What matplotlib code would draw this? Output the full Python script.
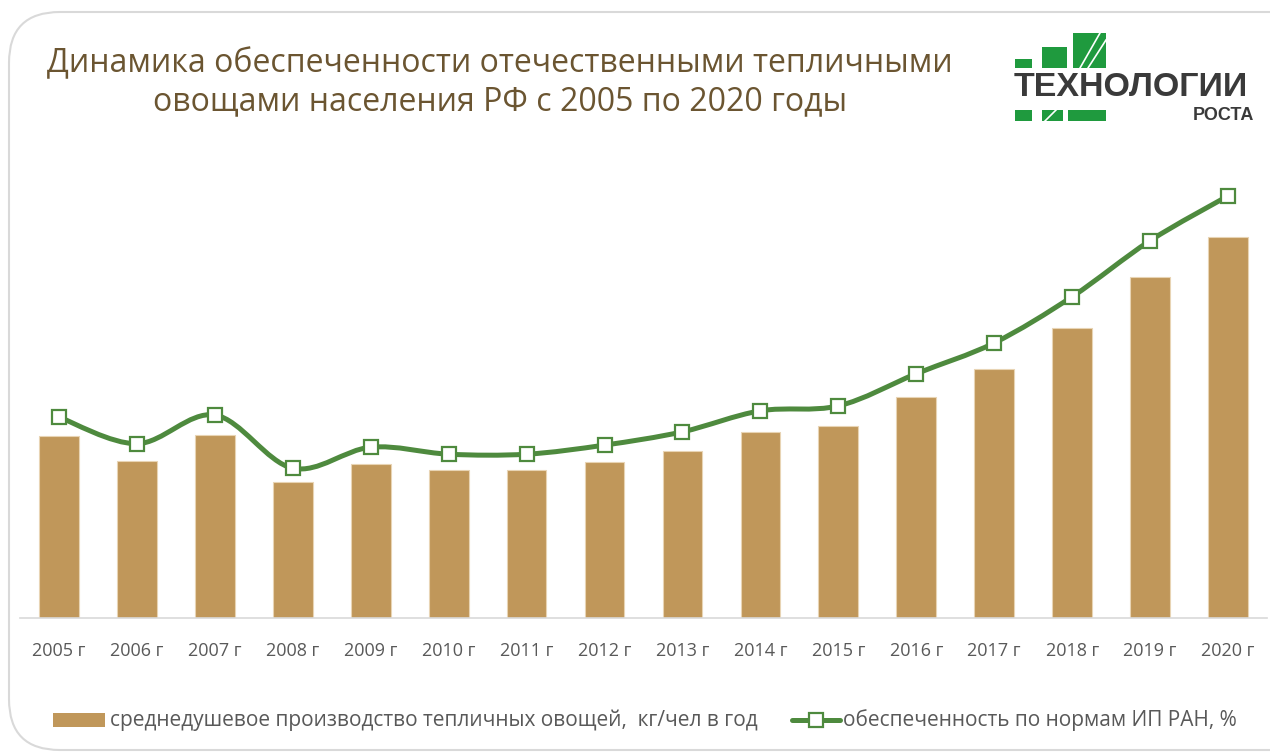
import matplotlib
matplotlib.use("Agg")
import matplotlib.pyplot as plt
from matplotlib.path import Path
from matplotlib.patches import PathPatch, FancyBboxPatch, Rectangle
from matplotlib.lines import Line2D
import numpy as np

years = ["2005 г", "2006 г", "2007 г", "2008 г", "2009 г", "2010 г", "2011 г", "2012 г",
         "2013 г", "2014 г", "2015 г", "2016 г", "2017 г", "2018 г", "2019 г", "2020 г"]
production_kg = [4.23, 3.65, 4.26, 3.16, 3.58, 3.44, 3.44, 3.63,
                 3.88, 4.33, 4.47, 5.14, 5.79, 6.74, 7.93, 8.86]
provision_pct = [28.7, 24.9, 29.0, 21.4, 24.4, 23.4, 23.4, 24.7,
                 26.6, 29.6, 30.3, 34.9, 39.3, 45.9, 53.9, 60.3]

title = "Динамика обеспеченности отечественными тепличными\nовощами населения РФ с 2005 по 2020 годы"
bar_label = "среднедушевое производство тепличных овощей,  кг/чел в год"
line_label = "обеспеченность по нормам ИП РАН, %"

BAR_C = "#C0975A"
LINE_C = "#4E8A3E"
TITLE_C = "#6B5531"
TICK_C = "#595959"
FONT = "Open Sans"

W, H = 1270, 753
fig = plt.figure(figsize=(W / 100, H / 100), dpi=100)
fig.patch.set_facecolor("white")

def fx(px):
    return px / W

def fy(py):
    return 1 - py / H

# rounded frame
frame = FancyBboxPatch((fx(9), fy(750)), fx(1400) - fx(9), fy(12) - fy(750),
                       boxstyle="round,pad=0,rounding_size=0.04",
                       transform=fig.transFigure, facecolor="none",
                       edgecolor="#D9D9D9", linewidth=1.5, mutation_aspect=W / H, zorder=-5)
fig.patches.append(frame)

top_px, base_px = 170, 618
left_px, right_px = 20, 1267
ax = fig.add_axes([fx(left_px), fy(base_px), fx(right_px) - fx(left_px), (base_px - top_px) / H])
ax.set_facecolor("none")
x = np.arange(len(years))
ax.bar(x, production_kg, width=0.51, color=BAR_C, edgecolor="#E8D4B4", linewidth=0.8, zorder=2)
ax.set_xlim(-0.5, len(years) - 0.5)
ax.set_ylim(0, 448 / 43)
ax.set_yticks([])
for s in ["top", "right", "left"]:
    ax.spines[s].set_visible(False)
ax.spines["bottom"].set_color("#D9D9D9")
ax.spines["bottom"].set_linewidth(1.2)
ax.set_xticks(x)
ax.set_xticklabels(years, fontsize=13, color=TICK_C, family=FONT)
ax.tick_params(axis="x", length=0, pad=17)

ax2 = ax.twinx()
ax2.set_ylim(0, 448 / 7)
ax2.set_yticks([])
for s in ax2.spines.values():
    s.set_visible(False)

# smooth curve (Excel-style Bezier through the points)
pts = np.column_stack([x, provision_pct]).astype(float)
n = len(pts)
verts = [pts[0]]
codes = [Path.MOVETO]
for i in range(n - 1):
    p0 = pts[i - 1] if i > 0 else pts[i]
    p1 = pts[i]
    p2 = pts[i + 1]
    p3 = pts[i + 2] if i + 2 < n else pts[i + 1]
    c1 = p1 + (p2 - p0) / 6
    c2 = p2 - (p3 - p1) / 6
    verts += [c1, c2, p2]
    codes += [Path.CURVE4] * 3
ax2.add_patch(PathPatch(Path(verts, codes), facecolor="none", edgecolor=LINE_C,
                        linewidth=3.6, capstyle="round", zorder=3))
ax2.plot(x, provision_pct, linestyle="none", marker="s", markersize=9.5,
         markerfacecolor="white", markeredgecolor=LINE_C, markeredgewidth=1.6, zorder=4)

# title
fig.text(fx(500), fy(83), title, ha="center", va="center", fontsize=23,
         color=TITLE_C, family=FONT, linespacing=1.2)

# legend
fig.patches.append(Rectangle((fx(53), fy(727)), fx(105) - fx(53), fy(713) - fy(727),
                             transform=fig.transFigure, facecolor=BAR_C, edgecolor="none"))
fig.text(fx(110), fy(720), bar_label, ha="left", va="center", fontsize=15,
         color=TICK_C, family=FONT)
fig.lines.append(Line2D([fx(792), fx(840)], [fy(720), fy(720)], transform=fig.transFigure,
                        color=LINE_C, linewidth=3.6, solid_capstyle="round"))
fig.lines.append(Line2D([fx(816)], [fy(720)], transform=fig.transFigure, marker="s",
                        markersize=9.5, markerfacecolor="white", markeredgecolor=LINE_C,
                        markeredgewidth=1.6, linestyle="none"))
fig.text(fx(843), fy(720), line_label, ha="left", va="center", fontsize=15,
         color=TICK_C, family=FONT)

# logo
LOGO_G = "#1F9A3E"
def rect(x0, y0, x1, y1, c=LOGO_G):
    fig.patches.append(Rectangle((fx(x0), fy(y1)), fx(x1) - fx(x0), fy(y0) - fy(y1),
                                 transform=fig.transFigure, facecolor=c, edgecolor="none"))
rect(1015, 59, 1032, 68)
rect(1042, 47, 1067, 68)
rect(1073, 33, 1106, 68)
rect(1015, 110, 1032, 121)
rect(1042, 110, 1063, 121)
rect(1068, 110, 1106, 121)
for (a, b) in [((1080, 68), (1100, 33)), ((1088, 68), (1106, 40)), ((1045, 121), (1056, 110))]:
    fig.lines.append(Line2D([fx(a[0]), fx(b[0])], [fy(a[1]), fy(b[1])],
                            transform=fig.transFigure, color="white", linewidth=1.2))
fig.text(fx(1014), fy(87), "ТЕХНОЛОГИИ", ha="left", va="center", fontsize=24.5,
         color="#3A3A3A", family="Liberation Sans", fontweight="bold")
fig.text(fx(1254), fy(115), "РОСТА", ha="right", va="center", fontsize=13,
         color="#3A3A3A", family="Liberation Sans", fontweight="bold")

fig.savefig("out.png", dpi=100, facecolor="white")
